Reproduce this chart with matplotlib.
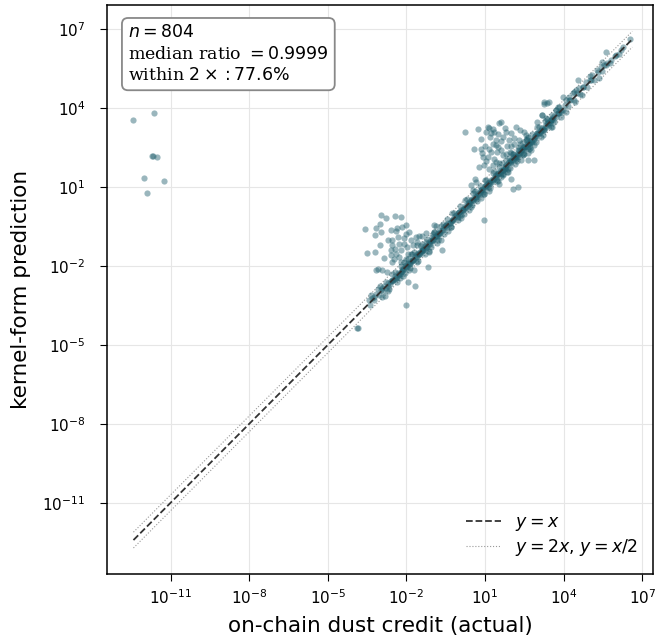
import numpy as np
import matplotlib

matplotlib.use("Agg")
import matplotlib.pyplot as plt
from matplotlib.ticker import NullLocator

# All values are log10 of the raw numbers.
# x = on-chain dust credit (actual), y = kernel-form prediction.

# stray points far to the left
OUT_X = [-12.42, -11.62, -11.73, -11.66, -11.52, -12.02, -11.26, -11.90]
OUT_Y = [3.53, 3.83, 2.18, 2.18, 2.13, 1.36, 1.24, 0.78]

# over-predicted cloud around 1e-2
LOW_X = [-2.98, -2.45, -2.20, -2.79, -3.58, -3.17, -3.02, -2.96, -2.41, -2.00,
         -2.16, -3.21, -2.59, -3.50, -3.20, -2.56, -2.33, -2.03, -1.90, -1.84,
         -2.28, -2.54, -2.60, -2.41, -2.22, -2.09, -1.97, -1.65, -1.52, -1.39,
         -1.24, -0.88, -1.58, -1.27, -1.01, -0.65, -2.60, -2.47, -2.22, -1.84,
         -1.52, -1.14, -2.73, -3.07, -2.92, -3.17, -2.22, -1.71, -1.18, -1.93,
         -1.69, -2.81, -2.00, -3.87, -0.68, -0.93,
         -2.70, -2.45, -2.30, -2.10, -1.95, -1.75, -2.85, -2.55, -2.00, -1.60,
         -3.00, -2.35, -1.40]
LOW_Y = [-0.07, -0.11, -0.13, -0.19, -0.60, -0.54, -0.42, -0.70, -0.68, -0.45,
         -0.51, -0.83, -0.64, -1.49, -1.47, -1.00, -0.89, -0.77, -0.70, -1.02,
         -1.15, -1.21, -1.40, -1.53, -1.40, -1.15, -1.28, -0.89, -0.87, -0.87,
         -0.74, -0.47, -1.21, -1.09, -0.89, -1.38, -1.59, -1.72, -1.85, -1.53,
         -1.53, -1.47, -2.23, -2.10, -2.17, -2.17, -2.23, -2.17, -2.04, -2.61,
         -2.76, -3.16, -3.47, -4.36, -1.03, -0.46,
         -1.00, -1.35, -1.65, -0.95, -1.55, -1.20, -1.70, -1.85, -1.75, -1.10,
         -1.20, -0.55, -1.35]

# over-predicted cloud around 1e1 .. 1e3
HIGH_X = [0.25, 0.72, 1.10, 1.16, 1.04, 1.54, 1.61, 1.80, 2.18, 2.50,
          2.56, 0.84, 1.23, 1.35, 1.42, 1.67, 1.92, 2.11, 2.31, 2.43,
          0.59, 0.84, 1.29, 1.48, 1.23, 1.61, 1.80, 0.91, 1.10, 1.35,
          2.05, 2.24, 2.75, 2.88, 2.37, 2.62, 0.97, 1.42, 1.16, 1.67,
          1.86, 1.54, 1.99, 2.05, 2.24, 0.97, 0.63, 0.53, 3.38, 3.26,
          3.19, 3.00, 2.69, 0.65, 0.46,
          1.30, 1.50, 1.75, 2.00, 1.20, 1.40, 1.60, 1.85, 2.10, 2.35,
          2.60, 1.00, 1.15, 1.70, 1.95, 2.20, 2.45, 1.05, 1.30, 1.55,
          1.75, 2.00, 2.30, 2.65, 0.75, 0.90, 1.45]
HIGH_Y = [3.11, 3.19, 3.29, 3.23, 3.10, 3.42, 3.48, 3.10, 3.29, 3.10,
          2.97, 2.84, 3.04, 3.10, 2.78, 2.91, 2.78, 2.65, 2.78, 2.53,
          2.46, 2.46, 2.65, 2.53, 2.34, 2.40, 2.27, 2.15, 2.15, 2.08,
          2.27, 2.40, 2.40, 2.02, 2.02, 2.02, 1.83, 1.96, 1.70, 1.45,
          1.57, 1.13, 1.32, 0.94, 1.00, -0.27, 1.30, 0.88, 4.18, 4.24,
          3.73, 3.48, 2.46, 1.19, 1.07,
          3.20, 3.00, 3.25, 3.05, 2.90, 2.60, 2.75, 2.55, 2.85, 3.15,
          2.80, 2.55, 2.45, 2.20, 2.35, 2.15, 2.70, 2.00, 1.85, 1.90,
          1.70, 2.55, 2.40, 2.30, 1.75, 2.30, 2.35]

# top end of the diagonal
TOP_X = [6.52, 5.61, 5.48, 5.54, 5.67, 5.99, 6.18, 4.53, 5.03, 4.72,
         3.98, 3.45, 3.26, 3.19, 3.32, 3.57, 3.83, 4.08, 4.34, 4.46,
         5.29, 5.80, 3.70, 4.21, 4.59, 4.84, 5.10, 5.42, 3.89, 3.51]
TOP_Y = [6.62, 6.15, 5.76, 5.64, 5.70, 6.02, 6.21, 5.07, 5.07, 4.81,
         4.43, 4.24, 4.15, 3.73, 3.61, 3.73, 4.05, 4.30, 4.56, 4.69,
         5.45, 5.83, 3.92, 4.30, 4.75, 5.00, 5.26, 5.57, 3.86, 3.54]

# points hugging y = x
DIAG_X = [-3.86, -3.43, -3.24, -2.92, -2.69, -2.54, -2.41, -2.28, -2.16, -2.03,
          -1.90, -1.77, -1.65, -1.52, -1.39, -1.27, -1.14, -1.01, -0.88, -0.76,
          -0.74, -0.49, -0.24, 0.02, 0.15, 0.34, 0.53, 0.72, 0.84, 1.04,
          1.16, 1.29, 1.48, 1.67, 1.80, 1.99, 2.11, 2.31, 2.50, 2.69,
          2.88, 3.00, 3.19, 3.38, 3.57, 3.77, -0.30, -0.04, 0.08, 0.40,
          0.65, 0.91, 1.10, 1.42, 1.61, 1.86, 2.18, 2.43, 2.62, 2.81,
          3.07, 3.26, 3.45, 3.64,
          -3.40, -3.30, -3.22, -3.15, -3.05, -2.98, -2.90, -2.84, -2.77, -2.70,
          -2.63, -2.57, -2.50, -2.44, -2.37, -2.31, -2.25, -2.18, -2.12, -2.05,
          -1.99, -1.93, -1.86, -1.80, -1.74, -1.67, -1.61, -1.55, -1.48, -1.42,
          -1.36, -1.29, -1.23, -1.17, -1.10, -1.04, -0.98, -0.91, -0.85, -0.79,
          -0.72, -0.66, -0.60, -0.53, -0.47, -0.41, -0.34, -0.28, -0.22, -0.15,
          -0.09, -0.03, 0.04, 0.10, 0.16, 0.23, 0.29, 0.35, 0.42, 0.48,
          0.54, 0.61, 0.67, 0.73, 0.80, 0.86, 0.92, 0.99, 1.05, 1.11,
          1.18, 1.24, 1.30, 1.37, 1.43, 1.49, 1.56, 1.62, 1.68, 1.75,
          1.81, 1.87, 1.94, 2.00, 2.06, 2.13, 2.19, 2.25, 2.32, 2.38,
          2.44, 2.51, 2.57, 2.63, 2.70, 2.76, 2.82, 2.89, 2.95, 3.01,
          3.08, 3.14, 3.20, 3.27, 3.33, 3.39, 3.46, 3.52, 3.58, 3.65,
          3.71, 3.77, 3.84, 3.90, 3.96, 4.05, 4.15, 4.25, 4.38, 4.50,
          4.62, 4.75, 4.88, 5.00, 5.15, 5.30, 5.45, 5.60, 5.78, 5.95,
          6.10, 6.28]
DIAG_Y = [-4.36, -3.31, -3.18, -2.83, -2.77, -2.58, -2.45, -2.32, -2.19, -2.05,
          -1.93, -1.80, -1.67, -1.56, -1.43, -1.30, -1.18, -1.04, -0.86, -0.75,
          -0.68, -0.46, -0.20, 0.05, 0.18, 0.31, 0.50, 0.75, 0.88, 1.07,
          1.19, 1.32, 1.51, 1.64, 1.83, 1.96, 2.15, 2.27, 2.46, 2.65,
          2.84, 3.04, 3.23, 3.42, 3.61, 3.80, -0.52, -0.14, -0.08, 0.37,
          0.56, 0.81, 1.00, 1.32, 1.51, 1.70, 2.08, 2.27, 2.53, 2.72,
          3.04, 3.16, 3.35, 3.48,
          -3.47, -3.21, -3.31, -3.06, -3.10, -2.93, -2.95, -2.77, -2.82, -2.66,
          -2.68, -2.52, -2.55, -2.40, -2.41, -2.27, -2.30, -2.12, -2.16, -2.02,
          -2.03, -1.90, -1.91, -1.76, -1.79, -1.63, -1.66, -1.52, -1.53, -1.39,
          -1.40, -1.26, -1.28, -1.13, -1.15, -1.00, -1.03, -0.88, -0.89, -0.75,
          -0.76, -0.62, -0.64, -0.50, -0.51, -0.37, -0.38, -0.24, -0.26, -0.11,
          -0.13, 0.01, -0.01, 0.14, 0.12, 0.27, 0.25, 0.39, 0.38, 0.52,
          0.51, 0.65, 0.63, 0.77, 0.76, 0.90, 0.88, 1.03, 1.01, 1.15,
          1.14, 1.28, 1.26, 1.41, 1.39, 1.53, 1.52, 1.66, 1.64, 1.79,
          1.77, 1.91, 1.90, 2.04, 2.02, 2.17, 2.15, 2.29, 2.28, 2.42,
          2.40, 2.55, 2.53, 2.67, 2.66, 2.80, 2.78, 2.93, 2.91, 3.05,
          3.04, 3.18, 3.16, 3.31, 3.29, 3.43, 3.42, 3.56, 3.54, 3.69,
          3.67, 3.81, 3.80, 3.94, 3.92, 4.10, 4.08, 4.32, 4.30, 4.56,
          4.55, 4.80, 4.82, 5.06, 5.08, 5.36, 5.40, 5.65, 5.72, 6.00,
          6.05, 6.33]

# looser spread inside the factor-of-two band
WIDE_X = [-3.10, -2.95, -2.80, -2.65, -2.45, -2.35, -2.20, -2.05, -1.95, -1.85,
          -1.70, -1.60, -1.45, -1.30, -1.20, -1.05, -0.95, -0.80, -0.70, -0.55,
          -0.45, -0.30, -0.20, -0.05, 0.05, 0.20, 0.30, 0.45, 0.55, 0.70,
          0.80, 0.95, 1.05, 1.20, 1.30, 1.45, 1.55, 1.70, 1.80, 1.95,
          2.05, 2.20, 2.30, 2.45, 2.55, 2.70, 2.80, 2.95, 3.05, 3.20,
          3.35, 3.50, 3.70, 3.90, 4.20, 4.45,
          -3.35, -3.00, -2.70, -2.55, -2.25, -2.10, -1.90, -1.78, -1.55, -1.40,
          -1.15, -1.00, -0.85, -0.62, -0.40, -0.25, 0.10, 0.25, 0.40, 0.60,
          0.85, 1.00, 1.15, 1.35, 1.50, 1.65, 1.85, 2.00, 2.15, 2.35,
          2.50, 2.65, 2.85, 3.00, 3.15, 3.30, 3.55, 3.80, 4.10, 4.40,
          4.70, 5.00, 5.35, 0.50, 1.60, 2.60, -0.95, -2.15, 1.90, 0.95]
WIDE_Y = [-2.88, -3.17, -2.61, -2.86, -2.24, -2.60, -1.99, -2.27, -1.73, -2.09,
          -1.47, -1.85, -1.23, -1.55, -0.98, -1.28, -0.72, -1.03, -0.49, -0.79,
          -0.22, -0.52, 0.02, -0.27, 0.27, -0.02, 0.53, 0.23, 0.77, 0.48,
          1.03, 0.73, 1.27, 0.98, 1.53, 1.22, 1.77, 1.48, 2.03, 1.73,
          2.27, 1.98, 2.53, 2.22, 2.77, 2.48, 3.03, 2.73, 3.27, 2.98,
          3.57, 3.27, 3.93, 3.67, 4.43, 4.22,
          -3.10, -2.78, -2.95, -2.30, -2.47, -1.85, -2.15, -1.55, -1.80, -1.15,
          -1.42, -0.78, -1.12, -0.40, -0.66, 0.00, -0.18, 0.50, 0.14, 0.86,
          0.58, 1.25, 0.86, 1.62, 1.22, 1.92, 1.58, 2.28, 1.88, 2.62,
          2.24, 2.92, 2.58, 3.27, 2.90, 3.52, 3.30, 4.05, 3.85, 4.62,
          4.48, 5.22, 5.15, 0.30, 1.40, 2.85, -0.70, -2.40, 2.10, 0.72]

# extra points in the densest stretch of the band
CORE_X = [-2.60, -2.30, -2.00, -1.75, -1.50, -1.25, -1.00, -0.75, -0.50, -0.25,
          0.00, 0.25, 0.50, 0.75, 1.00, 1.25, 1.50, 1.75, 2.00, 2.25,
          2.50, 2.75, 3.00, 3.25, 3.50, -2.45, -2.15, -1.85, -1.60, -1.35,
          -1.10, -0.85, -0.60, -0.35, -0.10, 0.15, 0.40, 0.65, 0.90, 1.15,
          1.40, 1.65, 1.90, 2.15, 2.40, 2.65, 2.90, 3.15, 3.40]
CORE_Y = [-2.57, -2.34, -1.96, -1.79, -1.47, -1.28, -0.97, -0.79, -0.46, -0.29,
          0.04, 0.21, 0.54, 0.71, 1.04, 1.21, 1.54, 1.71, 2.04, 2.21,
          2.54, 2.71, 3.04, 3.21, 3.54, -2.48, -2.11, -1.88, -1.56, -1.38,
          -1.06, -0.88, -0.56, -0.38, -0.06, 0.12, 0.44, 0.62, 0.94, 1.12,
          1.44, 1.62, 1.94, 2.12, 2.44, 2.62, 2.94, 3.12, 3.44]

STATS_TEXT = "$n = 804$\nmedian ratio $= 0.9999$\nwithin $2\\times: 77.6\\%$"

log_x = np.concatenate([OUT_X, LOW_X, HIGH_X, TOP_X, DIAG_X, WIDE_X, CORE_X])
log_y = np.concatenate([OUT_Y, LOW_Y, HIGH_Y, TOP_Y, DIAG_Y, WIDE_Y, CORE_Y])
actual = 10.0 ** log_x
predicted = 10.0 ** log_y

fig = plt.figure(figsize=(6.55, 6.39), dpi=100)
ax = fig.add_axes([107 / 655, 65 / 639, 546 / 655, 569 / 639])

ax.scatter(actual, predicted, s=20, color="#1f5f6d", alpha=0.45,
           linewidths=0, zorder=3)

lo = min(log_x.min(), log_y.min())
hi = max(log_x.max(), log_y.max())
ref = np.array([10.0 ** lo, 10.0 ** hi])
ax.plot(ref, ref, "--", color="#333333", lw=1.3, label="$y = x$", zorder=4)
ax.plot(ref, 2 * ref, ":", color="#999999", lw=0.8,
        label="$y = 2x$, $y = x/2$", zorder=2)
ax.plot(ref, ref / 2, ":", color="#999999", lw=0.8, zorder=2)

ax.set_xscale("log")
ax.set_yscale("log")
ax.set_xlim(10 ** -13.43, 10 ** 7.41)
ax.set_ylim(10 ** -13.71, 10 ** 7.92)
ticks = 10.0 ** np.arange(-11, 8, 3)
ax.set_xticks(ticks)
ax.set_yticks(ticks)
ax.xaxis.set_minor_locator(NullLocator())
ax.yaxis.set_minor_locator(NullLocator())
ax.tick_params(labelsize=11, length=5)
ax.tick_params(axis="x", pad=5)
ax.tick_params(axis="y", pad=10.5)

ax.grid(True, color="#e6e6e6", lw=0.8)
ax.set_axisbelow(True)
for sp in ax.spines.values():
    sp.set_linewidth(1.1)

ax.set_xlabel("on-chain dust credit (actual)", fontsize=15.5, labelpad=7)
ax.set_ylabel("kernel-form prediction", fontsize=15.5, labelpad=8)

ax.text(0.0385, 0.9665, STATS_TEXT, transform=ax.transAxes, va="top", ha="left",
        family="serif", fontsize=12.5, linespacing=1.35,
        bbox=dict(boxstyle="round,pad=0.35", facecolor="white",
                  edgecolor="#888888", lw=1.3))
ax.legend(loc="lower right", frameon=False, fontsize=12.5, labelspacing=0.25)

fig.savefig("out.png", dpi=100)
